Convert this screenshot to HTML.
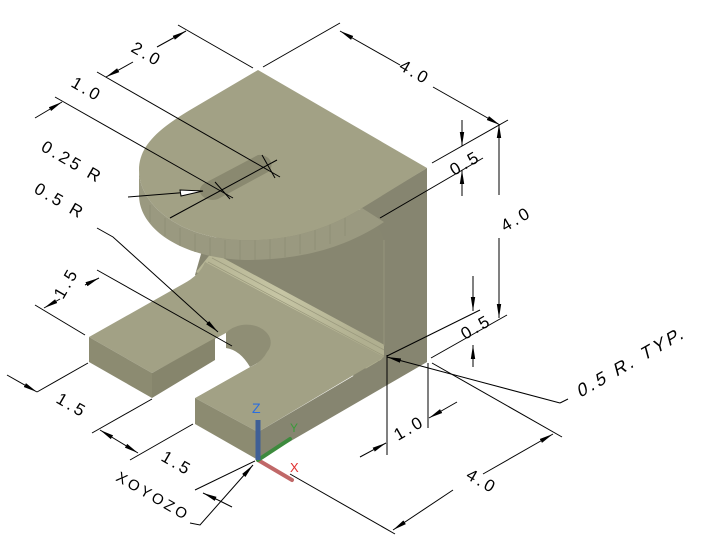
<!DOCTYPE html>
<html><head><meta charset="utf-8"><style>
html,body{margin:0;padding:0;background:#fff;}
svg{display:block;}
text{font-family:"Liberation Sans",sans-serif;font-size:17px;fill:#000;letter-spacing:3px;}
</style></head><body>
<svg width="703" height="551" viewBox="0 0 703 551" xmlns="http://www.w3.org/2000/svg">
<defs>
<marker id="a" viewBox="0 0 14 6" refX="14" refY="3" markerWidth="14" markerHeight="6" markerUnits="userSpaceOnUse" orient="auto-start-reverse">
<path d="M0,0.8 L14,3 L0,5.2 Z" fill="#000"/></marker>
<linearGradient id="fil" x1="0" y1="0" x2="1" y2="0.4">
<stop offset="0" stop-color="#b4b393"/><stop offset="0.5" stop-color="#c6c5a4"/><stop offset="1" stop-color="#b0af90"/></linearGradient>
</defs>

<!-- back wall between plates -->
<polygon points="195,275 205,240 384,205 384,360 360,380" fill="#878670"/>
<!-- fillet band -->
<polygon points="196,272 212,252 390,348 372,372" fill="url(#fil)"/>
<g stroke="#9a997d" stroke-width="0.8" fill="none">
<line x1="208" y1="262" x2="384" y2="356"/><line x1="204" y1="267" x2="380" y2="362"/><line x1="212" y1="258" x2="388" y2="352"/>
</g>
<!-- base top face -->
<path d="M89,337 L183,284 Q200,275 205,262 L384,357 L258,432 L195,398 L250,367 A19,14 0 0 0 226,333 L152,373 Z" fill="#a2a185"/>
<!-- slot opening white and hole wall -->
<path d="M152,373 L226,333 A19,14 0 0 1 250,367 L195,398 Z" fill="#fff"/>
<path d="M226,333 A19,14 0 0 1 267,352 Q262,362 250,367 Q240,350 226,348 Z" fill="#8f8e75"/>
<!-- left tab front and side -->
<polygon points="89,337 152,373 152,398 89,362" fill="#8c8b71"/>
<polygon points="152,373 215,338 215,360 152,398" fill="#86856c"/>
<!-- right tab front -->
<polygon points="195,398 258,432 258,460 195,424" fill="#8c8b71"/>
<!-- right block face -->
<path d="M360,208 L427,168 L427,362 L258,460 L258,432 L384,358 L384,240 Q380,224 368,222 Z" fill="#868570"/>
<line x1="384" y1="240" x2="384" y2="346" stroke="#9a997f" stroke-width="0.8"/>
<!-- top plate cylindrical band -->
<path d="M139,170 C139,205 180,238 240,240 C290,242 330,228 362,208 L384,222 C345,248 300,260 245,260 C180,258 139,228 139,195 Z" fill="#9a9980"/>
<g stroke="#8c8b72" stroke-width="0.7">
<line x1="150" y1="205" x2="150" y2="222"/><line x1="165" y1="218" x2="165" y2="236"/><line x1="180" y1="228" x2="180" y2="246"/><line x1="195" y1="234" x2="195" y2="252"/><line x1="210" y1="238" x2="210" y2="256"/><line x1="225" y1="240" x2="225" y2="259"/><line x1="240" y1="240" x2="240" y2="260"/><line x1="255" y1="240" x2="255" y2="260"/><line x1="270" y1="239" x2="270" y2="259"/><line x1="285" y1="237" x2="285" y2="257"/><line x1="300" y1="234" x2="300" y2="254"/><line x1="315" y1="230" x2="315" y2="250"/><line x1="330" y1="224" x2="330" y2="244"/><line x1="345" y1="217" x2="345" y2="236"/>
</g>
<!-- top face -->
<path d="M258,70 L427,168 L362,208 C330,228 290,242 240,240 C180,238 139,205 139,170 C139,145 160,128 190,110 Z" fill="#a2a185"/>
<!-- slot in top plate -->
<path d="M207,182 L258,155 A12,10 0 0 1 268,172 L218,199 A12,9 0 0 1 207,182 Z" fill="#8a8970"/>

<!-- dimension lines -->
<g stroke="#000" stroke-width="1" fill="none">
<line x1="178" y1="25" x2="253" y2="68"/>
<line x1="263" y1="67" x2="340" y2="23"/>
<line x1="97" y1="72" x2="280" y2="177"/>
<line x1="55" y1="97" x2="233" y2="198"/>
<line x1="170" y1="218" x2="277" y2="160"/>
<line x1="262" y1="155" x2="275" y2="178"/>
<line x1="215" y1="182" x2="230" y2="199"/>
<line x1="157" y1="47" x2="186" y2="31" marker-end="url(#a)"/>
<line x1="133" y1="62" x2="106" y2="77" marker-end="url(#a)"/>
<line x1="35" y1="118" x2="62" y2="102" marker-end="url(#a)"/>
<polyline points="128,197 203,191"/>
<path d="M180,190 L203,191 L181,196 Z" fill="#fff"/>
<polyline points="97,228 113,237 218,332" marker-end="url(#a)"/>
<line x1="400" y1="65" x2="340" y2="31" marker-end="url(#a)"/>
<line x1="433" y1="87" x2="500" y2="125" marker-end="url(#a)"/>
<line x1="432" y1="163" x2="508" y2="120"/>
<line x1="380" y1="218" x2="483" y2="158"/>
<line x1="462" y1="120" x2="462" y2="146" marker-end="url(#a)"/>
<line x1="462" y1="196" x2="462" y2="170" marker-end="url(#a)"/>
<line x1="499" y1="195" x2="499" y2="124" marker-end="url(#a)"/>
<line x1="499" y1="238" x2="499" y2="318" marker-end="url(#a)"/>
<line x1="431" y1="358" x2="507" y2="315"/>
<line x1="387" y1="356" x2="480" y2="310"/>
<line x1="473" y1="276" x2="473" y2="311" marker-end="url(#a)"/>
<line x1="473" y1="367" x2="473" y2="345" marker-end="url(#a)"/>
<polyline points="560,403 568,399"/>
<line x1="560" y1="403" x2="387" y2="357" marker-end="url(#a)"/>
<line x1="432" y1="363" x2="562" y2="437"/>
<line x1="387" y1="355" x2="387" y2="455"/>
<line x1="428" y1="363" x2="428" y2="428"/>
<line x1="457" y1="402" x2="429" y2="418" marker-end="url(#a)"/>
<line x1="360" y1="457" x2="386" y2="443" marker-end="url(#a)"/>
<line x1="483" y1="474" x2="553" y2="434" marker-end="url(#a)"/>
<line x1="453" y1="490" x2="393" y2="530" marker-end="url(#a)"/>
<line x1="290" y1="474" x2="395" y2="534"/>
<line x1="35" y1="305" x2="85" y2="335"/>
<line x1="97" y1="270" x2="232" y2="346"/>
<line x1="85" y1="285" x2="99" y2="278" marker-end="url(#a)"/>
<line x1="60" y1="299" x2="44" y2="308" marker-end="url(#a)"/>
<line x1="37" y1="392" x2="88" y2="363"/>
<line x1="92" y1="433" x2="152" y2="399"/>
<line x1="7" y1="375" x2="37" y2="392" marker-end="url(#a)"/>
<line x1="130" y1="460" x2="193" y2="424"/>
<line x1="100" y1="430" x2="138" y2="453" marker-start="url(#a)" marker-end="url(#a)"/>
<line x1="195" y1="490" x2="255" y2="461"/>
<line x1="203" y1="493" x2="218" y2="500" marker-start="url(#a)"/>
<line x1="218" y1="500" x2="232" y2="507"/>
<polyline points="190,523 200,525 253,465" marker-end="url(#a)"/>
</g>

<!-- UCS icon -->
<line x1="258" y1="460" x2="292" y2="480" stroke="#c06868" stroke-width="4" stroke-linecap="round"/>
<line x1="258" y1="460" x2="290" y2="439" stroke="#3d8a3d" stroke-width="4" stroke-linecap="round"/>
<line x1="258" y1="460" x2="258" y2="420" stroke="#3f5f96" stroke-width="5"/>
<text x="252" y="413" style="fill:#2a6ee0;font-size:14px;letter-spacing:0">Z</text>
<text x="290" y="432" style="fill:#3a9a3a;font-size:12px;letter-spacing:0">Y</text>
<text x="290" y="472" style="fill:#e03030;font-size:13px;letter-spacing:0">X</text>

<!-- labels -->
<text transform="translate(130,51) rotate(30)">2.0</text>
<text transform="translate(70,86) rotate(30)">1.0</text>
<text transform="translate(40,150) rotate(30)">0.25 R</text>
<text transform="translate(33,192) rotate(30)">0.5 R</text>
<text transform="translate(398,69) rotate(30)">4.0</text>
<text transform="translate(454,176) rotate(-30)">0.5</text>
<text transform="translate(505,232) rotate(-30)">4.0</text>
<text transform="translate(465,340) rotate(-30)">0.5</text>
<text transform="translate(580,398) rotate(-30) skewX(-15)" style="font-size:18px">0.5 R. TYP.</text>
<text transform="translate(398,441) rotate(-30)">1.0</text>
<text transform="translate(465,478) rotate(30)">4.0</text>
<text transform="translate(63,300) rotate(-60)">1.5</text>
<text transform="translate(55,402) rotate(30)">1.5</text>
<text transform="translate(160,460) rotate(30)">1.5</text>
<text transform="translate(115,480) rotate(30)" style="font-size:15px">XOYOZO</text>
</svg>
</body></html>
